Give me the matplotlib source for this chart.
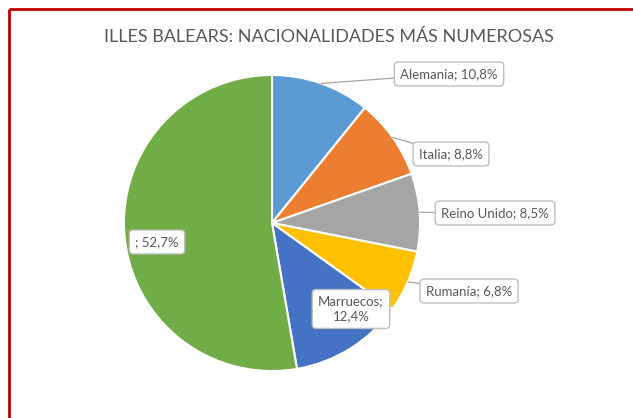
import matplotlib
matplotlib.use("Agg")
import matplotlib.pyplot as plt
import numpy as np

title = "ILLES BALEARS: NACIONALIDADES MÁS NUMEROSAS"
categories = ["Alemania", "Italia", "Reino Unido", "Rumanía", "Marruecos", ""]
values = [10.8, 8.8, 8.5, 6.8, 12.4, 52.7]
colors = ["#5B9BD5", "#ED7D31", "#A5A5A5", "#FFC000", "#4472C4", "#70AD47"]
label_texts = ["Alemania; 10,8%", "Italia; 8,8%", "Reino Unido; 8,5%",
               "Rumanía; 6,8%", "Marruecos;\n12,4%", "; 52,7%"]
# label box centres in pixel coords (x from left, y from top)
label_pos = [(449, 74), (451, 154), (495, 213), (469, 291), (351, 309), (157, 242)]
leader = [True, True, True, True, False, False]

W, H = 633, 418
plt.rcParams['font.family'] = ['Lato', 'DejaVu Sans']
fig = plt.figure(figsize=(W / 100, H / 100), dpi=100)
ax = fig.add_axes([0, 0, 1, 1])
ax.set_xlim(0, W)
ax.set_ylim(0, H)
ax.set_aspect('equal')
ax.axis('off')

cx, cy, r = 272, H - 223, 148
wedges, _ = ax.pie(values, colors=colors, startangle=90, counterclock=False,
                   center=(cx, cy), radius=r,
                   wedgeprops=dict(edgecolor='white', linewidth=1.5))
ax.set_xlim(0, W)
ax.set_ylim(0, H)

for w, txt, (lx, ly), ld in zip(wedges, label_texts, label_pos, leader):
    mid = np.deg2rad((w.theta1 + w.theta2) / 2)
    anchor = (cx + r * np.cos(mid), cy + r * np.sin(mid))
    bbox = dict(boxstyle='round,pad=0.45,rounding_size=0.3', fc='white',
                ec='#BFBFBF', lw=1.0)
    if ld:
        ax.annotate(txt, xy=anchor, xytext=(lx, H - ly), ha='center', va='center',
                    fontsize=9.5, color='#595959', bbox=bbox,
                    arrowprops=dict(arrowstyle='-', color='#A6A6A6', lw=0.9,
                                    shrinkA=0, shrinkB=0))
    else:
        ax.text(lx, H - ly, txt, ha='center', va='center', fontsize=9.5,
                color='#595959', bbox=bbox, linespacing=1.3)

fig.text(329 / W, 1 - 37 / H, title, ha='center', va='center', fontsize=13.0,
         color='#595959')

# red selection border (left and top)
ax.plot([9, 9], [0, H - 9], color='#C00000', lw=2, solid_capstyle='butt')
ax.plot([9, W], [H - 9, H - 9], color='#C00000', lw=2, solid_capstyle='butt')

fig.savefig("out.png", dpi=100)
